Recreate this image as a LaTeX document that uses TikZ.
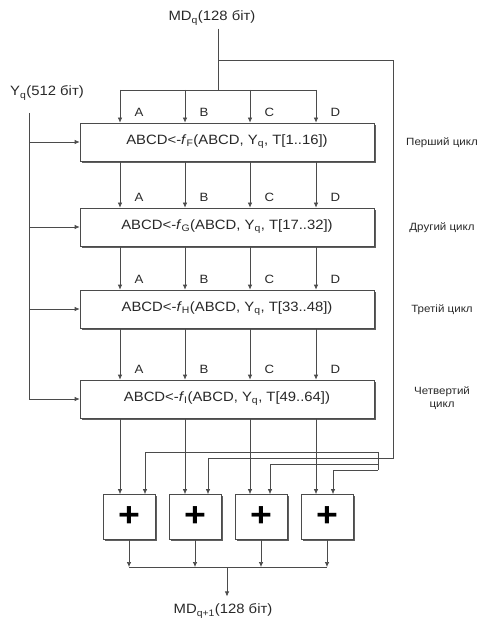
\documentclass[tikz,border=0pt]{standalone}
\usepackage{fontspec}
\setmainfont{Liberation Sans}[FakeStretch=1.1]
\usetikzlibrary{positioning,shadows,arrows.meta}
\definecolor{mdline}{RGB}{75,75,75}
\definecolor{mdshadow}{RGB}{95,95,95}
\definecolor{mdtext}{RGB}{40,40,40}

\begin{document}
\begin{tikzpicture}[x=1pt, y=-1pt, >={Latex[length=5pt,width=4.5pt]},
    wire/.style={draw=mdline, line width=0.7pt},
    roundbox/.style={draw=mdline, line width=0.7pt, fill=white, text=mdtext, minimum width=294pt, minimum height=38pt, font=\fontsize{13.5}{15}\selectfont, drop shadow={shadow xshift=1.8pt, shadow yshift=-1.8pt, fill=mdshadow, opacity=1}},
    sumbox/.style={draw=mdline, line width=0.7pt, fill=white, text=black, minimum width=52pt, minimum height=45pt, font=\fontsize{34}{36}\selectfont\bfseries, drop shadow={shadow xshift=1.8pt, shadow yshift=-1.8pt, fill=mdshadow, opacity=1}},
    letter/.style={text=mdtext, font=\fontsize{12}{14}\selectfont, anchor=west, xshift=11pt, yshift=10pt},
    cyclelabel/.style={text=mdtext, font=\fontsize{10.5}{13}\selectfont, align=center},
    iolabel/.style={text=mdtext, font=\fontsize{13.5}{15}\selectfont}]
    \useasboundingbox (0,0) rectangle (480,620);

    % rounds
    \node[roundbox] (r1) at (227,142) {ABCD<-\textit{f}\textsubscript{F}(ABCD, Y\textsubscript{q}, T[1..16])};
    \node[roundbox] (r2) at (227,227) {ABCD<-\textit{f}\textsubscript{G}(ABCD, Y\textsubscript{q}, T[17..32])};
    \node[roundbox] (r3) at (227,309) {ABCD<-\textit{f}\textsubscript{H}(ABCD, Y\textsubscript{q}, T[33..48])};
    \node[roundbox] (r4) at (227,399) {ABCD<-\textit{f}\textsubscript{I}(ABCD, Y\textsubscript{q}, T[49..64])};

    \node[cyclelabel] (c1) at (442,143) {Перший цикл};
    \node[cyclelabel] (c2) at (442,228) {Другий цикл};
    \node[cyclelabel] (c3) at (442,310) {Третій цикл};
    \node[cyclelabel] (c4) at (442,398) {Четвертий\\цикл};

    % inputs
    \node[iolabel] (mdq) at (212,18) {MD\textsubscript{q}(128 біт)};
    \node[iolabel] (yq) at (47,93) {Y\textsubscript{q}(512 біт)};
    \coordinate (split) at (218,60);
    \coordinate (bus) at (218,90);
    \coordinate (colA) at (120,90);
    \coordinate (colB) at (185,90);
    \coordinate (colC) at (250,90);
    \coordinate (colD) at (316,90);
    \coordinate (ytop) at (29,113);

    \draw[wire] (mdq.south -| bus) -- (bus);
    \draw[wire] (colA) -- (colD);
    \foreach \c in {A,B,C,D} {
        \draw[wire,->] (col\c) -- (r1.north -| col\c);
        \foreach \r in {1,...,4}
            \node[letter] at (r\r.north -| col\c) {\c};
    }
    \foreach \r/\n in {1/2,2/3,3/4}
        \foreach \c in {A,B,C,D}
            \draw[wire,->] (r\r.south -| col\c) -- (r\n.north -| col\c);

    \draw[wire] (ytop) -- (ytop |- r4.west);
    \foreach \r in {1,...,4}
        \draw[wire,->] (ytop |- r\r.west) -- (r\r.west);

    % adders
    \node[sumbox] (s1) at (129,517) {+};
    \node[sumbox] (s2) at (195,517) {+};
    \node[sumbox] (s3) at (261,517) {+};
    \node[sumbox] (s4) at (327,517) {+};

    \foreach \c/\i in {A/1,B/2,C/3,D/4}
        \draw[wire,->] (r4.south -| col\c) -- (s\i.north -| col\c);

    % feedback of MDq
    \coordinate (fbtop) at (393,60);
    \coordinate (fbjoin) at (378,458);
    \draw[wire] (split) -- (fbtop) -- (fbtop |- fbjoin) -- (fbjoin);
    \foreach \i/\x in {1/145,2/208,3/270,4/333} {
        \coordinate (fb\i) at (378,{446+6*\i});
        \coordinate (tap\i) at (\x,{446+6*\i});
        \draw[wire,->] (fb\i) -- (tap\i) -- (tap\i |- s\i.north);
    }
    \draw[wire] (fb1) -- (fb4);

    % output
    \coordinate (outbus) at (227,567);
    \node[iolabel] (mdq1) at (223,611) {MD\textsubscript{q+1}(128 біт)};
    \draw[wire] (s1.south |- outbus) -- (s4.south |- outbus);
    \foreach \i in {1,...,4}
        \draw[wire,->] (s\i.south) -- (s\i.south |- outbus);
    \draw[wire,->, shorten >=4pt] (outbus) -- (outbus |- mdq1.north);
\end{tikzpicture}
\end{document}
